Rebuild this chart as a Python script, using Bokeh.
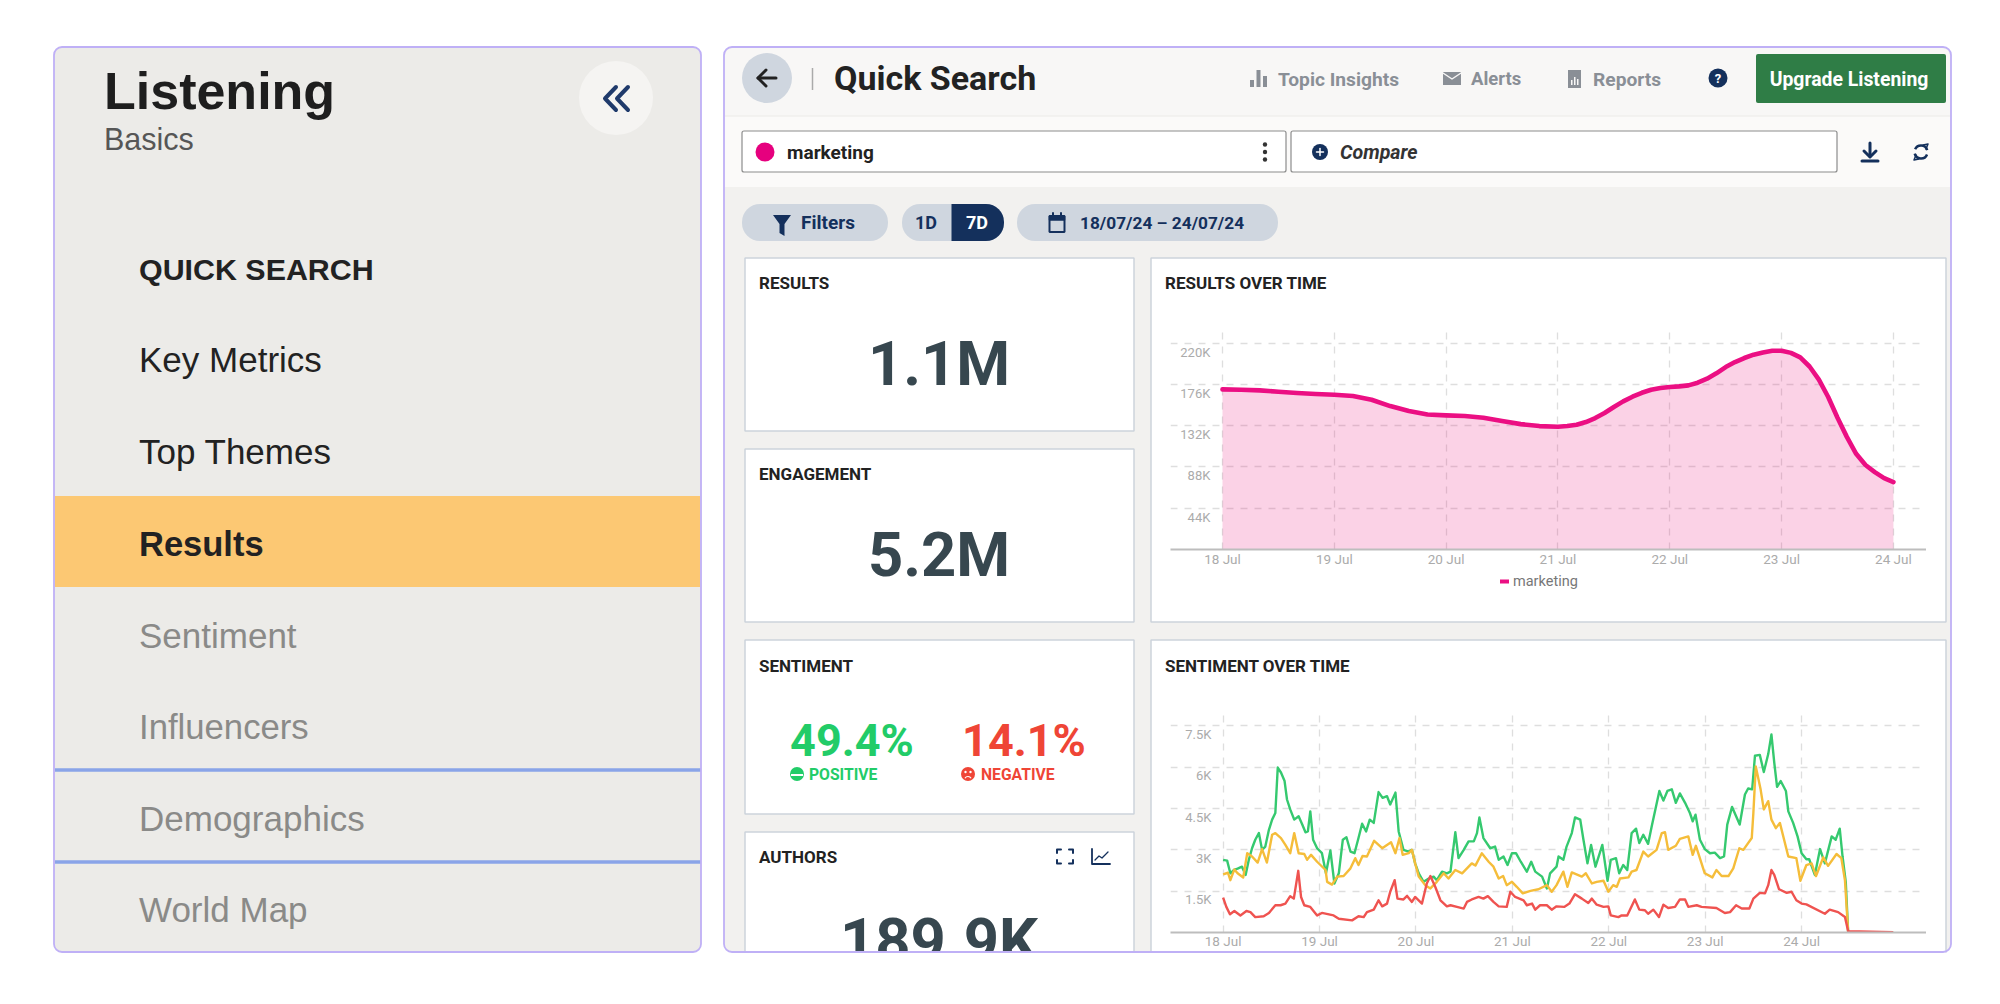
from bokeh.core.properties import value
from bokeh.embed import file_html
from bokeh.resources import INLINE
from bokeh.layouts import column
from bokeh.plotting import figure
from bokeh.models import (Range1d, LinearAxis, FixedTicker, Grid)

# ---------- data ----------
nav_items = ["QUICK SEARCH", "Key Metrics", "Top Themes", "Results", "Sentiment",
             "Influencers", "Demographics", "World Map"]
day_ticks = [0, 24, 48, 72, 96, 120, 144]
day_labels = ["18 Jul", "19 Jul", "20 Jul", "21 Jul", "22 Jul", "23 Jul", "24 Jul"]
series_name = "marketing"

results_ticks = [44000, 88000, 132000, 176000, 220000]
results_tick_labels = ["44K", "88K", "132K", "176K", "220K"]
results_hours = [0, 4, 8, 12, 16, 20, 24, 28, 32, 36, 40, 44, 48, 52, 56, 60, 64, 68, 72, 74, 76, 78, 80, 82, 84, 86, 88, 90, 92, 94,
                 96, 98, 100, 102, 104, 106, 108, 110, 112, 114, 116, 118, 120, 122, 124, 126, 128, 130, 132, 134, 136, 138, 140, 142, 144]
results_k = [170.6, 170.2, 169.5, 168.1, 166.7, 165.6, 164.9, 163.5, 159.6, 152.8, 147.5, 143.9, 142.9,
             142.2, 140.4, 136.8, 133.6, 131.5, 130.8, 131.5, 132.9, 135.8, 140.0, 145.4, 151.8, 157.8, 162.8, 167.0, 170.2, 172.0,
             173.1, 173.8, 174.9, 177.7, 182.0, 187.7, 194.4, 199.7, 204.0, 207.6, 210.0, 211.8, 211.8, 209.5, 204.7, 195.0, 181.0, 162.5, 140.4, 120.0,
             102.0, 90.0, 82.5, 76.0, 71.8]

sent_ticks = [1500, 3000, 4500, 6000, 7500]
sent_tick_labels = ["1.5K", "3K", "4.5K", "6K", "7.5K"]

pos_hours = [0, 1.0, 1.8, 2.7, 3.6, 4.7, 5.6, 6.4, 7.2, 8.0, 8.9, 9.7, 10.5, 11.4, 12.2, 13.0, 13.6, 14.4, 15.3,
             15.9, 16.7, 17.7, 18.8, 19.7, 20.5, 21.1, 21.7, 22.4, 23.4, 24.6, 25.6, 26.7, 27.7, 28.8, 29.8,
             30.7, 31.7, 32.7, 33.7, 34.6, 35.6, 36.5, 37.5, 38.7, 39.7, 40.8, 41.6, 42.9, 43.7, 44.9, 46.2,
             47.0, 47.8, 48.7, 49.9, 51.2, 52.4, 53.2, 54.5, 55.7, 56.6, 57.8, 58.6, 59.9, 61.1, 62.4, 63.2,
             63.8, 64.8, 66.5, 67.7, 68.6, 69.8, 70.8, 71.9, 72.9, 74.1, 75.6, 76.7, 77.7, 79.4, 80.6, 81.4,
             83.0, 83.5, 84.7, 85.5, 86.8, 87.6, 88.9, 89.7, 90.7, 91.6, 92.7, 94.4, 95.7, 96.5, 97.8, 98.6,
             99.6, 100.6, 101.7, 102.8, 103.6, 104.6, 105.8, 106.7, 108.6, 109.6, 110.6, 111.7, 112.7, 113.7,
             115.0, 116.2, 116.9, 117.6, 118.7, 119.9, 121.2, 122.4, 123.7, 124.7, 125.5, 126.7, 128.6, 129.9,
             130.7, 131.7, 132.4, 133.6, 134.6, 135.7, 136.5, 137.2, 137.9, 138.8, 140.1, 140.7, 141.9, 143.0,
             144.0, 145.2, 145.9, 147.3, 148.6, 149.8, 151.5, 152.5, 153.5, 154.2, 155.0, 155.6, 166.8]
pos_k = [2.64, 2.61, 2.15, 2.27, 2.32, 2.39, 2.09, 2.64, 3.06, 3.37, 3.61, 3.00, 3.12, 3.73, 4.10, 4.34, 5.99, 5.81, 5.50,
         4.83, 4.47, 4.10, 4.22, 3.92, 3.64, 3.67, 4.40, 3.37, 3.06, 2.88, 2.15, 2.98, 1.78, 2.15, 3.37,
         3.46, 2.94, 2.88, 3.43, 3.95, 3.67, 4.10, 3.98, 5.10, 4.89, 4.95, 4.65, 5.08, 3.67, 3.00, 2.94,
         3.00, 2.51, 2.15, 1.84, 1.96, 2.03, 1.90, 2.21, 2.15, 2.21, 3.64, 2.70, 3.00, 3.31, 3.31, 3.61,
         4.18, 3.43, 3.06, 3.12, 2.64, 2.76, 2.45, 2.88, 2.88, 2.57, 2.21, 2.57, 2.21, 2.03, 1.60, 2.15,
         2.39, 2.76, 2.64, 3.12, 3.61, 4.18, 4.10, 3.37, 2.51, 3.18, 2.39, 3.18, 1.88, 2.64, 2.70, 2.15,
         2.45, 2.27, 3.61, 3.77, 3.25, 3.55, 3.22, 3.86, 5.14, 4.79, 5.14, 5.20, 4.71, 5.05,
         4.71, 4.34, 4.04, 4.28, 3.37, 3.03, 2.88, 2.90, 2.70, 2.76, 3.92, 4.56, 3.92, 5.01,
         5.23, 5.20, 6.42, 6.45, 5.83, 6.48, 7.19, 6.17, 5.29, 5.50, 5.14, 4.40, 3.98, 3.49,
         2.88, 2.66, 2.66, 2.09, 3.03, 2.51, 3.49, 3.37, 3.77, 2.76, 1.84, 0.01, 0.0]

neu_hours = [0, 1.2, 1.8, 2.8, 3.6, 5.0, 6.0, 7.2, 8.6, 9.7, 10.9, 12.2, 13.0, 14.4, 15.5, 16.7, 17.7, 18.8, 20.2, 20.9,
             21.9, 23.4, 25.5, 25.9, 27.1, 28.4, 30.0, 31.7, 32.9, 33.7, 34.7, 35.8, 37.6, 39.6, 41.8, 42.9, 43.9,
             44.7, 46.2, 47.0, 47.8, 48.7, 50.3, 51.6, 53.2, 54.9, 56.1, 57.8, 59.5, 61.9, 62.8, 64.4, 66.1, 67.3,
             68.6, 69.7, 70.6, 71.9, 73.1, 74.6, 76.5, 78.5, 80.6, 81.8, 83.0, 84.7, 85.7, 86.8, 89.3, 90.3, 91.8,
             93.0, 94.7, 95.9, 97.1, 98.0, 98.8, 100.9, 101.7, 102.9, 104.6, 105.8, 107.9, 109.2, 110.0, 110.8,
             112.7, 113.7, 115.8, 116.9, 117.7, 119.1, 119.9, 121.8, 122.8, 124.1, 125.8, 127.0, 128.5, 129.5,
             131.6, 132.0, 132.6, 133.8, 134.6, 135.7, 136.5, 137.6, 138.6, 140.7, 142.7, 143.7, 145.2, 146.5,
             147.6, 149.4, 150.6, 152.7, 153.9, 154.8, 155.6, 166.8]
neu_k = [2.11, 2.17, 1.90, 2.29, 2.15, 2.00, 2.88, 2.76, 2.54, 3.03, 2.54, 3.55, 3.61, 3.43, 3.18, 2.88, 3.61, 2.88, 2.85, 2.64,
         2.82, 2.57, 2.27, 1.84, 1.74, 2.03, 2.05, 2.33, 2.70, 2.45, 2.78, 2.76, 3.33, 3.06, 3.28, 2.88, 3.43,
         2.82, 2.88, 3.00, 2.51, 2.03, 1.72, 1.60, 1.84, 2.15, 1.96, 2.27, 2.15, 2.51, 2.43, 2.88, 2.57, 2.39,
         1.96, 2.05, 1.72, 1.84, 1.66, 1.42, 1.51, 1.57, 1.72, 1.48, 1.72, 2.21, 1.66, 2.18, 2.03, 2.15, 1.78,
         1.84, 1.88, 1.48, 1.72, 1.66, 1.96, 2.00, 2.21, 2.27, 2.94, 2.76, 3.00, 3.61, 3.64, 3.00,
         3.15, 3.40, 3.49, 2.82, 3.15, 2.51, 2.15, 2.00, 2.27, 2.05, 2.05, 2.33, 3.06, 3.00,
         3.43, 4.34, 6.03, 5.20, 4.47, 4.77, 4.10, 3.79, 3.98, 2.76, 2.70, 1.88, 2.45, 2.51,
         2.05, 2.73, 2.42, 2.85, 2.70, 1.90, 0.01, 0.0]

neg_hours = [0, 0.8, 1.7, 2.8, 4.3, 5.8, 6.8, 8.0, 10.1, 11.4, 13.0, 14.3, 15.5, 16.7, 17.6, 18.7, 19.4, 20.2, 21.7, 23.4,
             24.6, 27.5, 28.8, 32.1, 33.7, 35.0, 35.8, 37.5, 38.7, 39.6, 40.8, 41.6, 42.7, 43.4, 44.9, 45.8, 47.0,
             47.8, 49.5, 50.7, 51.6, 52.8, 54.1, 55.7, 56.6, 58.2, 59.9, 60.7, 61.9, 63.6, 64.8, 65.9, 67.3, 68.6,
             70.6, 71.5, 72.7, 74.8, 75.6, 76.9, 77.7, 78.9, 80.6, 81.8, 83.0, 84.9, 86.2, 87.6, 89.3, 90.9, 91.8,
             93.0, 94.7, 95.9, 96.5, 98.4, 99.2, 100.6, 102.5, 103.6, 105.0, 105.8, 107.1, 108.5, 109.6, 110.8,
             112.5, 113.7, 115.0, 115.8, 117.9, 119.1, 122.8, 124.9, 126.2, 127.7, 129.1, 131.0, 132.0, 133.6,
             134.9, 135.7, 136.5, 137.2, 138.4, 140.3, 141.5, 142.7, 144.0, 145.2, 149.8, 151.0, 153.1, 154.8,
             155.6, 166.8]
neg_k = [1.27, 0.93, 0.66, 0.78, 0.62, 0.78, 0.74, 0.56, 0.59, 0.71, 0.99, 0.99, 1.05, 1.32, 1.23, 2.24, 1.29, 0.99, 0.93, 0.62,
         0.71, 0.62, 0.50, 0.44, 0.59, 0.56, 0.74, 0.83, 1.17, 0.95, 1.05, 1.48, 1.90, 1.23, 1.20, 1.33, 1.11,
         1.29, 1.05, 1.78, 2.05, 1.66, 1.17, 0.95, 0.99, 0.93, 0.87, 1.11, 1.20, 1.29, 1.23, 1.32, 1.11, 0.95,
         0.93, 1.48, 1.29, 1.17, 0.99, 1.05, 0.83, 0.99, 0.99, 0.83, 0.95, 0.93, 1.05, 1.39, 1.23, 1.07, 1.23,
         1.01, 0.93, 0.95, 0.62, 0.56, 0.62, 0.62, 1.20, 0.83, 0.81, 0.68, 0.83, 0.56, 1.01, 0.89,
         0.93, 1.20, 1.20, 0.93, 0.99, 0.93, 0.89, 0.71, 0.74, 0.99, 0.87, 0.87, 1.23, 1.44,
         1.42, 1.72, 2.27, 2.09, 1.57, 1.44, 1.48, 1.17, 1.05, 1.02, 0.68, 0.83, 0.74, 0.56,
         0.05, 0.01]

# ---------- style ----------
LILAC = "#BFB0F6"
NAVY = "#14305C"
PILL = "#CFD6DF"
GREY_ICON = "#8A8F96"
CARD_LINE = "#CDD3DC"
SANS = "Liberation Sans"
ROBOTO = "Roboto"
SHIFT = 0.5

# ---------- page background: coordinates are window pixels ----------
bg = figure(width=1984, height=988, x_range=Range1d(SHIFT, 1984 + SHIFT), y_range=Range1d(988 + SHIFT, SHIFT),
            output_backend="svg", toolbar_location=None, min_border=0, outline_line_color=None,
            background_fill_color="white", border_fill_color="white", x_axis_type=None, y_axis_type=None)
bg.grid.visible = False


def box(x0, y0, x1, y1, fill="white", line=None, lw=1.5, radius=0):
    bg.quad(left=[x0], right=[x1], top=[y0], bottom=[y1], fill_color=fill, line_color=line,
            line_width=lw, border_radius=radius)


def txt(x, y, s, size, color="#222222", font=ROBOTO, style="normal", align="left"):
    bg.text(x=[x], y=[y], text=[s], text_font=value(font), text_font_size=f"{size}px", text_color=color,
            text_font_style=style, text_align=align, text_baseline="middle")


def stroke(xs, ys, color, lw=2.0):
    bg.line(xs, ys, line_color=color, line_width=lw, line_cap="round", line_join="round")


def disc(x, y, r, color):
    bg.ellipse(x=[x], y=[y], width=2 * r, height=2 * r, fill_color=color, line_color=None)


# left panel
box(54, 47, 701, 952, "#ECEBE8", None, radius=8)
box(55, 496, 700, 587, "#FCC873")
txt(104, 91, "Listening", 52, "#1E1E1E", SANS, "bold")
txt(104, 139, "Basics", 30.5, "#565656", SANS)
disc(616, 98, 37, "#F5F4F2")
stroke([616, 605, 616], [87, 98.5, 110], "#1F3A6B", 4)
stroke([628, 617, 628], [87, 98.5, 110], "#1F3A6B", 4)
nav_y = [269, 359, 451, 544, 635, 727, 818, 909]
nav_size = [30.4, 35, 35, 34.5, 35, 34.7, 35, 35]
nav_color = ["#222222", "#222222", "#222222", "#222222", "#8A8A88", "#8A8A88", "#8A8A88", "#8A8A88"]
nav_style = ["bold", "normal", "normal", "bold", "normal", "normal", "normal", "normal"]
for name, y, s, c, st in zip(nav_items, nav_y, nav_size, nav_color, nav_style):
    txt(139, y, name, s, c, SANS, st)
for y in (770, 862):
    bg.line([55, 701], [y, y], line_color="#8AA4E8", line_width=3.5)

# right panel
box(724, 47, 1951, 952, "#F2F1EF", None, radius=8)
box(725, 48, 1950, 116, "#F8F7F6", None, radius=(8, 8, 0, 0))
box(725, 116, 1950, 187, "#FBFAF9")
bg.line([725, 1950], [116, 116], line_color="#F0EFED", line_width=1.5)
disc(767, 78, 25, PILL)
stroke([776, 758], [78, 78], "#222222", 3)
stroke([766, 758, 766], [70, 78, 86], "#222222", 3)
bg.line([812.5, 812.5], [68, 90], line_color="#AAAAAA", line_width=1.5)
txt(834, 78, "Quick Search", 34, "#222222", ROBOTO, "bold")

# topic insights / alerts / reports
box(1250, 80, 1254, 87, GREY_ICON)
box(1256.5, 70, 1260.5, 87, GREY_ICON)
box(1263, 76, 1267, 87, GREY_ICON)
txt(1278, 79, "Topic Insights", 19.2, GREY_ICON, ROBOTO, "bold")
box(1443, 72, 1461, 85, GREY_ICON)
stroke([1443, 1452, 1461], [73, 79, 73], "#F8F7F6", 1.5)
txt(1471, 79, "Alerts", 18.5, GREY_ICON, ROBOTO, "bold")
box(1568, 70, 1581, 88, GREY_ICON)
box(1571, 80, 1572.5, 85, "#F8F7F6")
box(1574, 77, 1575.5, 85, "#F8F7F6")
box(1577, 79, 1578.5, 85, "#F8F7F6")
txt(1593, 79, "Reports", 19.2, GREY_ICON, ROBOTO, "bold")
disc(1718, 78, 9.5, NAVY)
txt(1718, 78, "?", 13, "white", ROBOTO, "bold", "center")
box(1756, 54, 1946, 103, "#2F7D46", None, radius=2)
txt(1849, 79, "Upgrade Listening", 19.4, "white", ROBOTO, "bold", "center")

# search row
box(742, 131, 1286, 172, "white", "#8C8C8C", 1.2, radius=2)
disc(765, 152, 9.5, "#E6007E")
txt(787, 152, series_name, 19, "#222222", ROBOTO, "bold")
for y in (144.5, 152, 159.5):
    disc(1265, y, 2.2, "#333333")
box(1291, 131, 1837, 172, "white", "#8C8C8C", 1.2, radius=2)
disc(1320, 152, 8, NAVY)
stroke([1316.5, 1323.5], [152, 152], "white", 1.5)
stroke([1320, 1320], [148.5, 155.5], "white", 1.5)
txt(1340, 152, "Compare", 19.6, "#333333", ROBOTO, "bold italic")
stroke([1870, 1870], [143, 156], NAVY, 3)
stroke([1864, 1870, 1876], [151, 157, 151], NAVY, 3)
stroke([1862, 1878], [161, 161], NAVY, 3)
bg.arc(x=[1921], y=[152], radius=6.5, start_angle=0.3, end_angle=2.7, line_color=NAVY, line_width=2.5)
bg.arc(x=[1921], y=[152], radius=6.5, start_angle=3.4, end_angle=5.9, line_color=NAVY, line_width=2.5)
stroke([1926, 1928, 1923], [149, 144, 145], NAVY, 1.5)
stroke([1916, 1914, 1919], [155, 160, 159], NAVY, 1.5)

# pills
box(742, 204, 888, 241, PILL, None, radius=18)
bg.patch([773, 791, 784.5, 784.5, 779.5, 779.5], [215, 215, 224, 236, 233, 224], fill_color=NAVY, line_color=None)
txt(801, 222.5, "Filters", 19, NAVY, ROBOTO, "bold")
box(902, 204, 1004, 241, PILL, None, radius=18)
box(951.5, 204, 1004, 241, NAVY, None, radius=(0, 18, 18, 0))
txt(926, 222.5, "1D", 18, NAVY, ROBOTO, "bold", "center")
txt(977, 222.5, "7D", 18, "white", ROBOTO, "bold", "center")
box(1017, 204, 1278, 241, PILL, None, radius=18)
box(1049.5, 216, 1064.5, 232, PILL, NAVY, 2)
box(1049.5, 216, 1064.5, 220, NAVY, NAVY, 1.5)
stroke([1053, 1053], [213, 216], NAVY, 2)
stroke([1061, 1061], [213, 216], NAVY, 2)
txt(1080, 222.5, "18/07/24 – 24/07/24", 17.3, NAVY, ROBOTO, "bold")

# cards
for y0, y1 in ((258, 431), (449, 622), (640, 814), (832, 962)):
    box(745, y0, 1134, y1, "white", CARD_LINE, 1.5)
for y0, y1 in ((258, 622), (640, 962)):
    box(1151, y0, 1946, y1, "white", CARD_LINE, 1.5)
txt(759, 283, "RESULTS", 17, "#222222", ROBOTO, "bold")
txt(759, 474, "ENGAGEMENT", 17, "#222222", ROBOTO, "bold")
txt(759, 666, "SENTIMENT", 17, "#222222", ROBOTO, "bold")
txt(759, 857, "AUTHORS", 17, "#222222", ROBOTO, "bold")
txt(1165, 283, "RESULTS OVER TIME", 17, "#222222", ROBOTO, "bold")
txt(1165, 666, "SENTIMENT OVER TIME", 17, "#222222", ROBOTO, "bold")
txt(939, 364, "1.1M", 61.5, "#37474F", ROBOTO, "bold", "center")
txt(939, 555, "5.2M", 61.5, "#37474F", ROBOTO, "bold", "center")
txt(939, 941, "189.9K", 61.5, "#37474F", ROBOTO, "bold", "center")
txt(852, 740, "49.4%", 45, "#22CC68", ROBOTO, "bold", "center")
txt(1024, 740, "14.1%", 45, "#EF4536", ROBOTO, "bold", "center")
txt(809, 774, "POSITIVE", 15.7, "#22CC68", ROBOTO, "bold")
txt(981, 774, "NEGATIVE", 15.7, "#EF4536", ROBOTO, "bold")
disc(797, 774, 7, "#22CC68")
bg.line([791, 803], [775, 775], line_color="white", line_width=2)
disc(968, 774, 7, "#EF4536")
disc(965.5, 772, 1.2, "white")
disc(970.5, 772, 1.2, "white")
bg.arc(x=[968], y=[780], radius=3.5, start_angle=0.5, end_angle=2.6, line_color="white", line_width=1.2)
for xs, ys in (([1057, 1057, 1061], [853, 849.5, 849.5]), ([1069, 1073, 1073], [849.5, 849.5, 853]),
               ([1057, 1057, 1061], [860, 863.5, 863.5]), ([1069, 1073, 1073], [863.5, 863.5, 860])):
    stroke(xs, ys, NAVY, 2)
stroke([1092, 1092, 1110], [849, 864, 864], NAVY, 1.8)
stroke([1095, 1099, 1102, 1108], [860, 856, 858, 852], NAVY, 1.3)

# legend of the results chart
box(1500, 579.5, 1509, 583.5, "#EB0F83")
txt(1513, 581.5, series_name, 14.5, "#777777")

# everything below the panels is cut off, then the panel outlines go on top
box(700, 952.5, 1985, 989, "white")
box(54, 47, 701, 952, None, LILAC, 1.8, radius=8)
box(724, 47, 1951, 952, None, LILAC, 1.8, radius=8)


# ---------- charts ----------
def chart(left, top, w, h, bottom, xr, yr, label_shift, label_x, yticks, ylabels, label_gap):
    p = figure(width=w, height=h + bottom, frame_width=w, frame_height=h, x_range=Range1d(*xr), y_range=Range1d(*yr),
               output_backend="svg", toolbar_location=None, min_border_left=0, min_border_right=0,
               min_border_top=0, min_border_bottom=bottom, outline_line_color=None,
               background_fill_alpha=0, border_fill_alpha=0, y_axis_type=None,
               styles={"position": "absolute", "left": f"{left - SHIFT}px", "top": f"{top - SHIFT}px", "z-index": "5"})
    p.xaxis.ticker = FixedTicker(ticks=day_ticks)
    p.xaxis.major_label_overrides = dict(zip(day_ticks, day_labels))
    p.xaxis.major_tick_line_color = None
    p.xaxis.minor_tick_line_color = None
    p.xaxis.major_tick_out = 0
    p.xaxis.major_tick_in = 0
    p.xaxis.axis_line_color = "#BDBDBD"
    p.xaxis.axis_line_width = 2
    p.xaxis.major_label_text_font = ROBOTO
    p.xaxis.major_label_text_font_size = "13.5px"
    p.xaxis.major_label_text_color = "#ABABAB"
    p.xaxis.major_label_standoff = label_gap
    p.xgrid.ticker = FixedTicker(ticks=day_ticks)
    p.xgrid.grid_line_color = "#DEDEDE"
    p.xgrid.grid_line_width = 1.3
    p.xgrid.grid_line_dash = [7, 7]
    p.extra_y_ranges = {"labels": Range1d(yr[0] + label_shift, yr[1] + label_shift)}
    ax = LinearAxis(y_range_name="labels", fixed_location=label_x, ticker=FixedTicker(ticks=yticks),
                    major_label_overrides=dict(zip(yticks, ylabels)), axis_line_color=None,
                    major_tick_line_color=None, minor_tick_line_color=None, major_label_standoff=0,
                    major_tick_out=0, major_tick_in=0,
                    major_label_text_font=ROBOTO, major_label_text_font_size="13px",
                    major_label_text_color="#ABABAB")
    p.add_layout(ax, "left")
    g = Grid(dimension=1, ticker=FixedTicker(ticks=yticks), grid_line_color="#DEDEDE", grid_line_width=1.3,
             grid_line_dash=[7, 7])
    p.add_layout(g)
    return p


c1 = chart(1170, 326, 756, 223, 40, (-11.16, 151.1), (0, 237600), 9600, -2.6, results_ticks, results_tick_labels, 1)
res_vals = [v * 1000 for v in results_k]
c1.varea(results_hours, [0] * len(results_hours), res_vals, fill_color="#EC0F78", fill_alpha=0.19)
c1.line(results_hours, res_vals, line_color="#EB0F83", line_width=4.6, line_join="round", line_cap="round")

c2 = chart(1170, 708, 756, 224, 20, (-13.1, 175.1), (0, 8135), 316, -2.9, sent_ticks, sent_tick_labels, 0)
for hours, vals, color in ((pos_hours, pos_k, "#35C96F"), (neu_hours, neu_k, "#F5BD3A"), (neg_hours, neg_k, "#EF5350")):
    c2.line(hours, [v * 1000 for v in vals], line_color=color, line_width=2.4, line_join="round")

page = column(bg, c1, c2, width=1984, height=988, styles={"position": "relative"})
open("out.html", "w").write(file_html(page, INLINE))
